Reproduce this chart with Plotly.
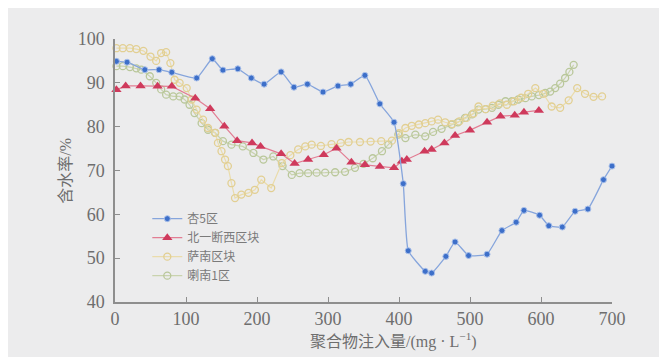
import plotly.graph_objects as go

# 杏5区
xing_x = [2, 17, 42, 62, 80, 115, 137, 152, 173, 192, 210, 234, 252, 271, 293, 314, 332, 352, 373, 393,
          406, 413, 437, 446, 466, 479, 498, 524, 545, 565, 576, 598, 611, 630, 648, 666, 688, 700]
xing_y = [94.9, 94.7, 93.0, 93.0, 92.4, 91.1, 95.5, 92.9, 93.2, 91.1, 89.7, 92.5, 89.0, 89.7, 87.9, 89.3, 89.7, 91.7, 85.2, 81.0,
          67.0, 51.7, 47.0, 46.6, 50.4, 53.7, 50.6, 50.9, 56.3, 58.2, 60.9, 59.8, 57.4, 57.1, 60.7, 61.2, 67.9, 71.0]

# 北一断西区块
bei_x = [2, 15, 36, 60, 80, 113, 134, 154, 172, 193, 205, 234, 253, 272, 294, 312, 333, 352, 373, 393,
         404, 411, 436, 446, 464, 479, 500, 524, 543, 563, 576, 597]
bei_y = [88.4, 89.3, 89.3, 89.2, 89.2, 86.5, 84.1, 80.1, 76.8, 76.3, 75.5, 73.8, 71.6, 72.5, 73.6, 75.1, 71.9, 71.3, 70.9, 70.6,
         72.1, 72.5, 74.4, 74.8, 76.3, 78.0, 79.2, 81.0, 82.4, 82.6, 83.3, 83.7]

# 萨南区块
sanan_x = [2, 11, 21, 30, 40, 50, 58, 65, 72, 78, 84, 91, 101, 108, 115, 124, 131, 141, 145, 150, 155, 159, 164, 169,
           178, 188, 197, 206, 220, 235, 247, 258, 268, 277, 290, 305, 318, 329, 345, 360, 375, 390, 400, 409, 418,
           428, 437, 446, 455, 465, 475, 485, 495, 505, 512, 522, 532, 542, 552, 562, 572, 582, 592, 603, 615, 627,
           639, 651, 662, 674, 686]
sanan_y = [97.9, 97.9, 97.9, 97.7, 97.3, 96.0, 95.0, 96.8, 97.0, 94.5, 90.7, 90.0, 88.8, 86.2, 83.9, 81.6, 79.7, 78.6,
           76.3, 74.4, 72.5, 71.0, 67.1, 63.7, 64.5, 64.9, 65.6, 67.9, 66.0, 71.7, 73.5, 74.8, 75.5, 75.9, 75.6, 76.0,
           76.3, 76.5, 76.5, 76.6, 76.7, 76.8, 78.5, 79.7, 80.2, 80.5, 80.8, 81.2, 81.6, 81.0, 80.6, 81.2, 82.0, 83.0,
           84.6, 84.0, 84.8, 85.3, 85.0, 85.8, 86.6, 87.5, 88.8, 87.5, 84.6, 84.3, 86.0, 88.8, 87.5, 86.8, 86.9]

# 喇南1区
lanan_x = [2, 11, 21, 30, 37, 49, 58, 65, 72, 82, 91, 98, 105, 112, 122, 131, 141, 152, 164, 180, 195, 209, 223, 236,
           249, 260, 272, 284, 296, 310, 324, 338, 350, 363, 376, 385, 399, 409, 423, 437, 448, 460, 474, 483, 493,
           503, 512, 522, 531, 540, 550, 559, 568, 578, 587, 597, 606, 613, 620, 627, 634, 640, 646]
lanan_y = [93.8, 93.8, 93.6, 93.3, 93.0, 91.5, 90.0, 88.5, 87.3, 86.9, 86.9, 86.2, 85.0, 83.1, 80.8, 79.3, 78.6, 76.7,
           75.9, 75.5, 74.0, 72.5, 73.2, 71.0, 69.0, 69.4, 69.4, 69.5, 69.5, 69.6, 69.7, 70.6, 71.5, 72.8, 74.4, 75.9,
           78.2, 77.4, 78.2, 77.8, 78.8, 79.5, 80.5, 81.0, 82.0, 82.8, 83.9, 84.0, 84.3, 85.0, 85.8, 85.8, 86.2, 86.5,
           86.9, 87.2, 87.7, 88.0, 88.8, 89.8, 91.1, 92.5, 94.1]

x_ticks = [0, 100, 200, 300, 400, 500, 600, 700]
y_ticks = [40, 50, 60, 70, 80, 90, 100]

BG = "#ececed"
AX = "#8e8e8e"
SERIF = "Liberation Serif, Noto Sans CJK SC, serif"
CJK = "Noto Sans CJK SC, sans-serif"

fig = go.Figure()

fig.add_trace(go.Scatter(
    x=lanan_x, y=lanan_y, name="喇南1区", mode="lines+markers",
    line=dict(color="#c9d3ae", width=1.2),
    marker=dict(symbol="circle-open", size=7, color="#b9c79a", line=dict(width=1.3)),
    cliponaxis=False))
fig.add_trace(go.Scatter(
    x=sanan_x, y=sanan_y, name="萨南区块", mode="lines+markers",
    line=dict(color="#eadcab", width=1.2),
    marker=dict(symbol="circle-open", size=7, color="#e2cf92", line=dict(width=1.3)),
    cliponaxis=False))
fig.add_trace(go.Scatter(
    x=bei_x, y=bei_y, name="北一断西区块", mode="lines+markers",
    line=dict(color="#e27d93", width=1.2),
    marker=dict(symbol="triangle-up", size=9, color="#cf3a5c"),
    cliponaxis=False))
fig.add_trace(go.Scatter(
    x=xing_x, y=xing_y, name="杏5区", mode="lines+markers",
    line=dict(color="#86a5dc", width=1.3, shape="spline", smoothing=0.4),
    marker=dict(symbol="circle", size=6, color="#3d6fc9", line=dict(color="#a9c0ea", width=1)),
    cliponaxis=False))

fig.update_layout(
    width=667, height=357,
    paper_bgcolor=BG, plot_bgcolor=BG,
    margin=dict(l=107, r=63, t=31, b=63),
    showlegend=True,
    legend=dict(
        x=0.065, y=0.372, xanchor="left", yanchor="top",
        bgcolor="rgba(0,0,0,0)", traceorder="reversed",
        font=dict(family=CJK, size=12, color="#7a7a7a"),
        itemwidth=30, tracegroupgap=0,
    ),
    xaxis=dict(
        range=[0, 700], tickvals=x_ticks, ticktext=[str(v) for v in x_ticks],
        showgrid=False, zeroline=False, showline=True, linecolor=AX, linewidth=1.5,
        ticks="inside", ticklen=5, tickcolor=AX,
        tickfont=dict(family=SERIF, size=18, color="#6e6e6e"),
    ),
    yaxis=dict(
        range=[40, 100], tickvals=y_ticks, ticktext=[str(v) for v in y_ticks],
        showgrid=False, zeroline=False, showline=True, linecolor=AX, linewidth=1.5,
        ticks="inside", ticklen=5, tickcolor=AX, ticklabelstandoff=5,
        tickfont=dict(family=SERIF, size=18, color="#6e6e6e"),
    ),
    annotations=[
        dict(text="聚合物注入量/(mg · L<sup>−1</sup>)", xref="paper", yref="paper",
             x=0.56, y=-0.145, xanchor="center", yanchor="middle", showarrow=False,
             font=dict(family=SERIF, size=16, color="#6e6e6e")),
        dict(text="含水率/%", xref="paper", yref="paper",
             x=-0.10, y=0.5, xanchor="center", yanchor="middle", showarrow=False, textangle=-90,
             font=dict(family=SERIF, size=16, color="#6e6e6e")),
    ],
)

fig.write_html("out.html")
